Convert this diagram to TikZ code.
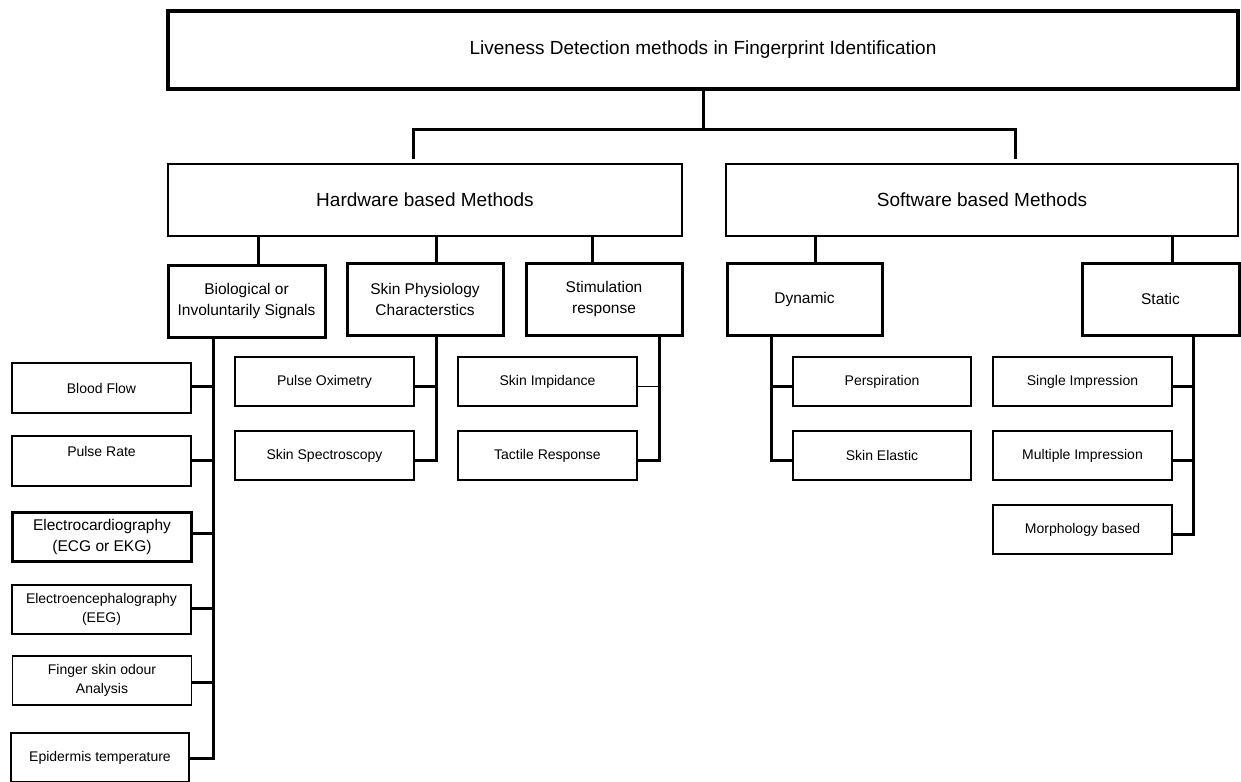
\documentclass[tikz,border=0pt]{standalone}
\usepackage{fontspec}
\setmainfont{Liberation Sans}
\begin{document}
\begin{tikzpicture}[x=1pt,y=-1pt,
  bigbox/.style={draw, line width=3.2pt, inner sep=0pt, align=center, font=\fontsize{19}{23}\selectfont},
  subbox/.style={draw, line width=1.1pt, inner sep=0pt, align=center, font=\fontsize{19}{23}\selectfont},
  midbox/.style={draw, line width=3pt, inner sep=0pt, align=center, font=\fontsize{15.5}{21}\selectfont},
  leafbox/.style={draw, line width=1.4pt, inner sep=0pt, align=center, font=\fontsize{14}{19}\selectfont, minimum height=49pt, minimum width=179pt},
  conn/.style={line width=3pt},
  thinconn/.style={line width=1pt}]
\useasboundingbox (0,0) rectangle (1241,781);
% top
\node[bigbox, minimum width=1070pt, minimum height=78pt] (top) at (703,50) {Liveness Detection methods in Fingerprint Identification};
\node[subbox, minimum width=514pt, minimum height=72pt] (hw) at (425,200) {Hardware based Methods};
\node[subbox, minimum width=512pt, minimum height=72pt] (sw) at (982,200) {Software based Methods};
% mid
\node[midbox, minimum width=157pt, minimum height=72pt] (bio) at (246.5,301) {Biological or\\Involuntarily Signals};
\node[midbox, minimum width=156pt, minimum height=72pt] (skp) at (425,299) {Skin Physiology\\Characterstics};
\node[midbox, minimum width=156pt, minimum height=72pt] (stim) at (604,299) {Stimulation\\response};
\node[midbox, minimum width=155pt, minimum height=72pt] (dyn) at (804.5,299) {Dynamic};
\node[midbox, minimum width=157pt, minimum height=72pt] (stat) at (1160.5,299) {Static};
% biological leaves
\node[leafbox, minimum height=50pt] (blood) at (101.5,388) {Blood Flow};
\node[leafbox, minimum height=50pt] (pulse) at (101.5,461) {Pulse Rate\\~};
\node[leafbox, line width=3pt, font=\fontsize{15.5}{21}\selectfont] (ecg) at (102,536.5) {Electrocardiography\\(ECG or EKG)};
\node[leafbox] (eeg) at (101.5,609.5) {Electroencephalography\\(EEG)};
\node[leafbox] (finger) at (102,680.5) {Finger skin odour\\Analysis};
\node[leafbox, minimum width=178pt] (epid) at (100,757.5) {Epidermis temperature};
% skin physiology leaves
\node[leafbox] (pox) at (324.5,381.5) {Pulse Oximetry};
\node[leafbox] (spec) at (324.5,455.5) {Skin Spectroscopy};
% stimulation leaves
\node[leafbox] (imp) at (547.5,381.5) {Skin Impidance};
\node[leafbox] (tact) at (547.5,455.5) {Tactile Response};
% dynamic leaves
\node[leafbox, minimum width=178pt] (persp) at (882,381.5) {Perspiration};
\node[leafbox, minimum width=178pt] (elast) at (882,455.5) {Skin Elastic};
% static leaves
\node[leafbox] (single) at (1082.5,381.5) {Single Impression};
\node[leafbox] (multi) at (1082.5,455.5) {Multiple Impression};
\node[leafbox] (morph) at (1082.5,529.5) {Morphology based};
% connectors top
\draw[conn] (top.south) -- ([yshift=-39pt]top.south);
\draw[conn] ([xshift=-12pt,yshift=4pt]hw.north) |- ([yshift=-39pt]top.south) -| ([xshift=33pt,yshift=4pt]sw.north);
% hardware / software drops
\draw[conn] ([xshift=-167pt]hw.south) -- ([xshift=11.5pt]bio.north);
\draw[conn] ([xshift=11pt]hw.south) -- ([xshift=11pt]skp.north);
\draw[conn] ([xshift=167pt]hw.south) -- ([xshift=-12pt]stim.north);
\draw[conn] ([xshift=-167pt]sw.south) -- ([xshift=10.5pt]dyn.north);
\draw[conn] ([xshift=190pt]sw.south) -- ([xshift=11.5pt]stat.north);
% biological
\draw[conn] ([xshift=-33.5pt]bio.south) |- ([yshift=2pt]blood.east);
\draw[conn] ([xshift=-33.5pt]bio.south) |- ([yshift=1pt]pulse.east);
\draw[conn] ([xshift=-33.5pt]bio.south) |- ([yshift=3.5pt]ecg.east);
\draw[conn] ([xshift=-33.5pt]bio.south) |- ([yshift=1.5pt]eeg.east);
\draw[conn] ([xshift=-33.5pt]bio.south) |- ([yshift=-1.5pt]finger.east);
\draw[conn] ([xshift=-33.5pt]bio.south) |- ([yshift=-0.5pt]epid.east);
% skin physiology
\draw[conn] ([xshift=11pt]skp.south) |- ([yshift=-4.5pt]pox.east);
\draw[conn] ([xshift=11pt]skp.south) |- ([yshift=-4.5pt]spec.east);
% stimulation
\draw[thinconn] ([xshift=55pt]stim.south |- imp.east) ++(0,4.5) -- ([yshift=-4.5pt]imp.east);
\draw[conn] ([xshift=55pt]stim.south) |- ([yshift=-4.5pt]tact.east);
% dynamic
\draw[conn] ([xshift=-33.5pt]dyn.south) |- ([yshift=-4.5pt]persp.west);
\draw[conn] ([xshift=-33.5pt]dyn.south) |- ([yshift=-4.5pt]elast.west);
% static
\draw[conn] ([xshift=32.5pt]stat.south) |- ([yshift=-4.5pt]single.east);
\draw[conn] ([xshift=32.5pt]stat.south) |- ([yshift=-4.5pt]multi.east);
\draw[conn] ([xshift=32.5pt]stat.south) |- ([yshift=-4.5pt]morph.east);
\end{tikzpicture}
\end{document}
